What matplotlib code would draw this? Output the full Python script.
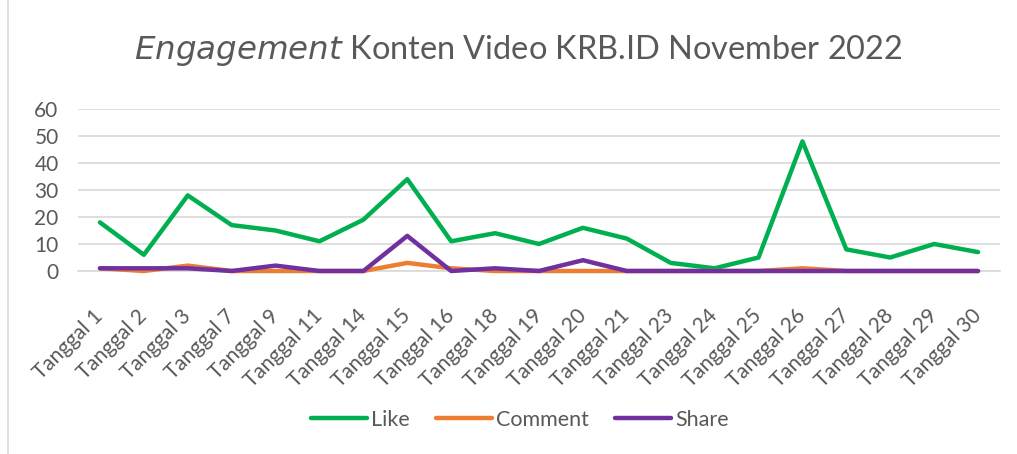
import matplotlib
matplotlib.use("Agg")
import matplotlib.pyplot as plt
from matplotlib.lines import Line2D

categories = ["Tanggal 1", "Tanggal 2", "Tanggal 3", "Tanggal 7", "Tanggal 9", "Tanggal 11",
              "Tanggal 14", "Tanggal 15", "Tanggal 16", "Tanggal 18", "Tanggal 19", "Tanggal 20",
              "Tanggal 21", "Tanggal 23", "Tanggal 24", "Tanggal 25", "Tanggal 26", "Tanggal 27",
              "Tanggal 28", "Tanggal 29", "Tanggal 30"]
like = [18, 6, 28, 17, 15, 11, 19, 34, 11, 14, 10, 16, 12, 3, 1, 5, 48, 8, 5, 10, 7]
comment = [1, 0, 2, 0, 0, 0, 0, 3, 1, 0, 0, 0, 0, 0, 0, 0, 1, 0, 0, 0, 0]
share = [1, 1, 1, 0, 2, 0, 0, 13, 0, 1, 0, 4, 0, 0, 0, 0, 0, 0, 0, 0, 0]
yticks = [0, 10, 20, 30, 40, 50, 60]

plt.rcParams['font.family'] = ['Lato', 'DejaVu Sans']
txt = '#595959'
fig = plt.figure(figsize=(10.17, 4.54), dpi=100)
fig.lines.append(Line2D([7.5/1017, 7.5/1017], [0, 1], transform=fig.transFigure, color='#d9d9d9', lw=1.2))
ax = fig.add_axes([78/1017, (454-271)/454, (1000-78)/1017, 162/454])
x = range(len(categories))
kw = dict(lw=3.2, solid_capstyle='round', solid_joinstyle='round', clip_on=False)
ax.plot(x, like, color='#00B050', label='Like', zorder=3, **kw)
ax.plot(x, comment, color='#ED7D31', label='Comment', zorder=3, **kw)
ax.plot(x, share, color='#7030A0', label='Share', zorder=4, **kw)
ax.set_xlim(-0.5, len(categories) - 0.5)
ax.set_ylim(0, 60)
ax.set_yticks(yticks)
ax.set_yticklabels([str(v) for v in yticks], fontsize=15, color=txt)
ax.set_xticks(list(x))
ax.set_xticklabels(categories, rotation=45, ha='right', va='center', rotation_mode='anchor',
                   fontsize=15, color=txt)
ax.tick_params(axis='y', length=0, pad=14)
ax.tick_params(axis='x', length=0, pad=30)
ax.grid(axis='y', color='#d9d9d9', lw=1.2)
ax.set_axisbelow(True)
for s in ['top', 'right', 'left']:
    ax.spines[s].set_visible(False)
ax.spines['bottom'].set_color('#d9d9d9')
ax.spines['bottom'].set_linewidth(1.2)
fig.text(518/1017, 1 - 51/454, r'$\it{Engagement}$ Konten Video KRB.ID November 2022', ha='center', va='center',
         fontsize=23.4, color=txt)
fig.legend(loc='center', bbox_to_anchor=(520/1017, 1 - 420/454), ncol=3, frameon=False, fontsize=15.5,
           handlelength=2.6, handletextpad=0.2, columnspacing=1.2, labelcolor=txt)
fig.savefig('out.png', dpi=100)
